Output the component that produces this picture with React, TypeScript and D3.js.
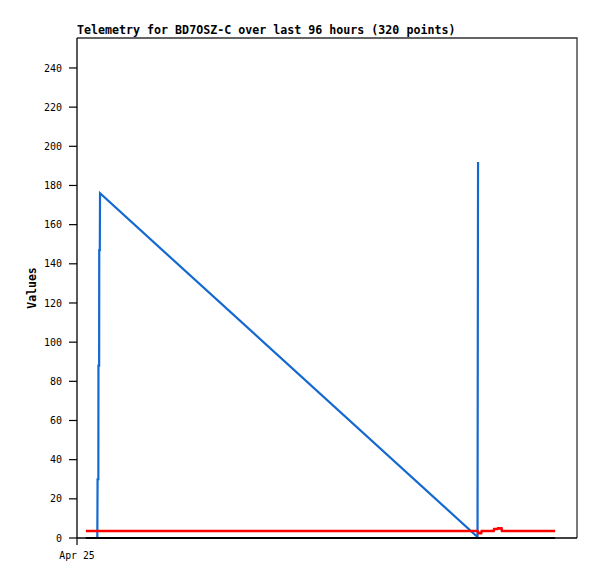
import * as d3 from "d3";

// hours since Apr 25 00:00, value
const start = new Date(2024, 3, 25, 0, 0, 0);
const hoursShown = 96;

const blueHours = [1.7, 3.9, 3.95, 4.1, 4.12, 4.25, 4.27, 4.38, 4.42, 76.9, 77.0];
const blueValues = [0, 0, 30, 30, 88, 88, 147, 147, 176, 0.5, 192];

const redHours = [1.7, 76.9, 77.1, 77.6, 77.7, 80.0, 80.1, 80.7, 80.8, 81.5, 81.6, 91.8];
const redValues = [3.6, 3.6, 2.5, 2.5, 3.6, 3.6, 4.6, 4.6, 4.9, 4.9, 3.6, 3.6];

const blackHours = [1.7, 91.8];
const blackValues = [0, 0];

const yTicks = [0, 20, 40, 60, 80, 100, 120, 140, 160, 180, 200, 220, 240];
const xTickLabels = ["Apr 25"];

const title = "Telemetry for BD7OSZ-C over last 96 hours (320 points)";

const toDate = (h: number) => new Date(start.getTime() + h * 3600 * 1000);

export default function App() {
  const width = 597;
  const height = 579;
  const left = 77;
  const right = 577;
  const top = 38;
  const bottom = 538;

  const x = d3
    .scaleTime()
    .domain([start, toDate(hoursShown)])
    .range([left, right]);
  const y = d3.scaleLinear().domain([0, 255.3]).range([bottom, top]);

  const line = d3
    .line<[number, number]>()
    .x((d) => x(toDate(d[0])))
    .y((d) => y(d[1]));

  const zip = (hs: number[], vs: number[]) =>
    hs.map((h, i) => [h, vs[i]] as [number, number]);

  const mono = "'DejaVu Sans Mono', monospace";

  return (
    <svg
      width={width}
      height={height}
      style={{ position: "absolute", left: 0, top: 0, background: "#fff" }}
    >
      <rect x={0} y={0} width={width} height={height} fill="#fff" />
      {/* frame */}
      <path
        d={`M${left},${top}H${right}V${bottom}`}
        fill="none"
        stroke="#333"
        strokeWidth={1.3}
      />
      {/* series */}
      <path
        d={line(zip(blueHours, blueValues)) ?? ""}
        fill="none"
        stroke="#1469d1"
        strokeWidth={2.2}
      />
      <path
        d={line(zip(redHours, redValues)) ?? ""}
        fill="none"
        stroke="#ff0000"
        strokeWidth={2.6}
      />
      <path
        d={line(zip(blackHours, blackValues)) ?? ""}
        fill="none"
        stroke="#000"
        strokeWidth={2.2}
      />
      {/* axes */}
      <line x1={left} x2={left} y1={top} y2={bottom} stroke="#000" strokeWidth={1.3} />
      <line x1={left} x2={right} y1={bottom} y2={bottom} stroke="#000" strokeWidth={1.3} />
      {yTicks.map((t) => (
        <g key={t}>
          <line x1={left - 8} x2={left} y1={y(t)} y2={y(t)} stroke="#000" strokeWidth={1.2} />
          <text
            x={left - 15}
            y={y(t)}
            dy="0.36em"
            textAnchor="end"
            fontFamily={mono}
            fontSize={10}
            fill="#000"
          >
            {t}
          </text>
        </g>
      ))}
      {xTickLabels.map((lab, i) => {
        const px = x(toDate(i * 24));
        return (
          <g key={lab}>
            <line x1={px} x2={px} y1={bottom} y2={bottom + 7} stroke="#000" strokeWidth={1.2} />
            <text
              x={px}
              y={559}
              textAnchor="middle"
              fontFamily={mono}
              fontSize={9.8}
              fill="#000"
            >
              {lab}
            </text>
          </g>
        );
      })}
      <text
        x={left}
        y={34}
        fontFamily={mono}
        fontWeight="bold"
        fontSize={11.65}
        fill="#000"
      >
        {title}
      </text>
      <text
        transform={`translate(36,${(top + bottom) / 2}) rotate(-90)`}
        textAnchor="middle"
        fontFamily={mono}
        fontWeight="bold"
        fontSize={11.5}
        fill="#000"
      >
        Values
      </text>
    </svg>
  );
}
